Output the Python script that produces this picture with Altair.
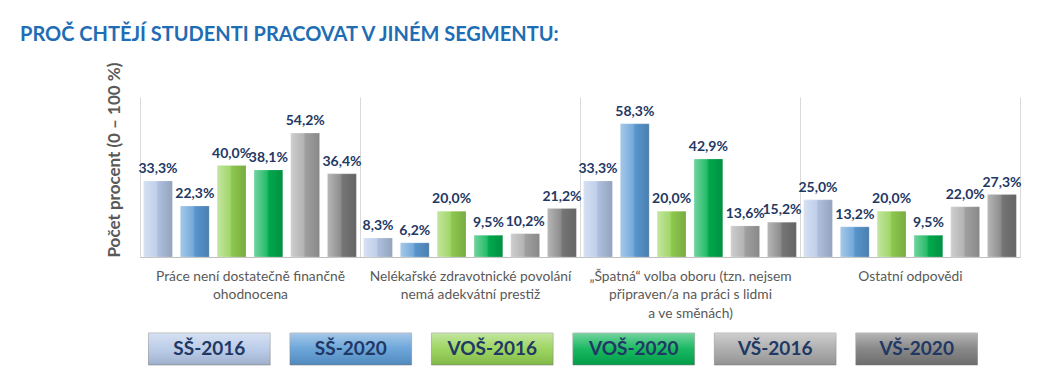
import altair as alt
import pandas as pd

categories = [
    "Práce není dostatečně finančně|ohodnocena",
    "Nelékařské zdravotnické povolání|nemá adekvátní prestiž",
    "„Špatná“ volba oboru (tzn. nejsem|připraven/a na práci s lidmi|a ve směnách)",
    "Ostatní odpovědi",
]
series = ["SŠ-2016", "SŠ-2020", "VOŠ-2016", "VOŠ-2020", "VŠ-2016", "VŠ-2020"]
ss_2016 = [33.3, 8.3, 33.3, 25.0]
ss_2020 = [22.3, 6.2, 58.3, 13.2]
vos_2016 = [40.0, 20.0, 20.0, 20.0]
vos_2020 = [38.1, 9.5, 42.9, 9.5]
vs_2016 = [54.2, 10.2, 13.6, 22.0]
vs_2020 = [36.4, 21.2, 15.2, 27.3]
colors = ["#b4c7e7", "#5b9bd5", "#92d050", "#00b050", "#a6a6a6", "#7a7a7a"]

values = [ss_2016, ss_2020, vos_2016, vos_2020, vs_2016, vs_2020]
rows = []
for s, vals in zip(series, values):
    for c, v in zip(categories, vals):
        rows.append({"kategorie": c, "skupina": s, "hodnota": v})
df = pd.DataFrame(rows)

FONT = "Lato"
NAVY = "#1f3864"

color_scale = alt.Scale(domain=series, range=colors)

base = alt.Chart(df).encode(
    x=alt.X(
        "kategorie:N",
        sort=categories,
        scale=alt.Scale(paddingInner=0, paddingOuter=0),
        axis=alt.Axis(
            title=None,
            labelAngle=0,
            labelExpr="split(datum.label, '|')",
            labelFont=FONT,
            labelFontSize=13.8,
            labelColor="#595959",
            labelLineHeight=18.5,
            labelPadding=12,
            labelBaseline="top",
            ticks=False,
            tickBand="extent",
            grid=True,
            gridColor="#d9d9d9",
            domainColor="#bfbfbf",
            labelLimit=300,
        ),
    ),
    xOffset=alt.XOffset(
        "skupina:N", sort=series, scale=alt.Scale(paddingInner=0.22, paddingOuter=0.1)
    ),
    y=alt.Y(
        "hodnota:Q",
        scale=alt.Scale(domain=[0, 70], nice=False),
        axis=alt.Axis(
            title="Počet procent  (0 – 100 %)",
            titleFont=FONT,
            titleFontSize=17,
            titleFontWeight="bold",
            titleColor="#595959",
            titleAnchor="start",
            titlePadding=17,
            labels=False,
            ticks=False,
            grid=False,
            domain=False,
        ),
    ),
)

bars = base.mark_bar(stroke="#ffffff", strokeOpacity=0.4, strokeWidth=0.6).encode(
    color=alt.Color("skupina:N", scale=color_scale, legend=None)
)

shade = base.mark_bar(
    fill=alt.Gradient(
        gradient="linear",
        x1=0, x2=1, y1=0, y2=0,
        stops=[
            alt.GradientStop(color="rgba(255,255,255,0.45)", offset=0),
            alt.GradientStop(color="rgba(255,255,255,0.15)", offset=0.45),
            alt.GradientStop(color="rgba(0,0,0,0.05)", offset=0.55),
            alt.GradientStop(color="rgba(0,0,0,0.18)", offset=1),
        ],
    )
)

labels = base.transform_calculate(
    txt="replace(format(datum.hodnota, '.1f'), '.', ',') + '%'"
).mark_text(
    dy=-5, baseline="bottom", font=FONT, fontSize=14, fontWeight="bold", color=NAVY
).encode(text="txt:N")

main = alt.layer(bars, shade, labels).properties(width=880, height=160)

leg_df = pd.DataFrame({"skupina": series})
leg_base = alt.Chart(leg_df).encode(
    x=alt.X(
        "skupina:N",
        sort=series,
        scale=alt.Scale(paddingInner=0.14, paddingOuter=0.06),
        axis=None,
    )
)
leg_box = leg_base.mark_bar(stroke="#8c8c8c", strokeWidth=0.6).encode(
    color=alt.Color("skupina:N", scale=color_scale, legend=None)
)
leg_shade = leg_base.mark_bar(
    fill=alt.Gradient(
        gradient="linear",
        x1=0, x2=0, y1=0, y2=1,
        stops=[
            alt.GradientStop(color="rgba(255,255,255,0.45)", offset=0),
            alt.GradientStop(color="rgba(255,255,255,0.1)", offset=0.5),
            alt.GradientStop(color="rgba(0,0,0,0.12)", offset=1),
        ],
    )
)
leg_text = leg_base.mark_text(
    font=FONT, fontSize=19, fontWeight="bold", color=NAVY, baseline="middle"
).encode(text="skupina:N")
legend = alt.layer(leg_box, leg_shade, leg_text).properties(width=846, height=32)

chart = (
    alt.vconcat(main, legend, spacing=76, bounds="flush")
    .properties(
        title=alt.TitleParams(
            "PROČ CHTĚJÍ STUDENTI PRACOVAT V JINÉM SEGMENTU:",
            anchor="start",
            font=FONT,
            fontSize=20,
            fontWeight="bold",
            color="#1f6db5",
            dx=-85,
            offset=13,
        ),
        padding={"left": 12, "top": 16, "right": 5, "bottom": 5},
    )
    .configure_view(stroke=None)
)

chart.save("out.html", embed_options={"renderer": "svg", "actions": False})
